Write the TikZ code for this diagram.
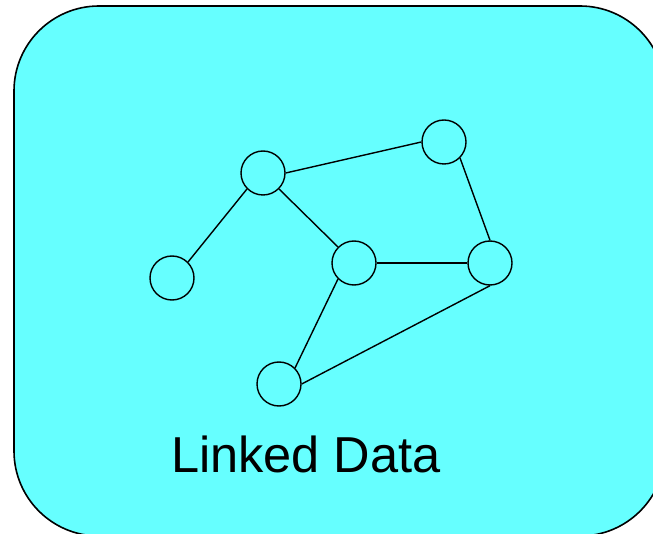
\documentclass[tikz,border=0pt]{standalone}
\usepackage{fontspec}
\setmainfont{Liberation Sans}
\definecolor{lodcyan}{HTML}{66FFFF}

\begin{document}
\begin{tikzpicture}[x=1pt,y=-1pt,
  res/.style={circle, draw, line width=1.4pt, minimum size=44pt, inner sep=0pt},
  link/.style={line width=1.4pt}]
\useasboundingbox (0,0) rectangle (653,534);
\clip (0,0) rectangle (653,534);
\draw[fill=lodcyan, line width=1.6pt, rounded corners=85pt] (14,6) rectangle (665,536);
\node[res] (hub) at (263,173) {};
\node[res] (top) at (444,142) {};
\node[res] (left) at (172,278) {};
\node[res] (mid) at (354,263) {};
\node[res] (right) at (490,263) {};
\node[res] (low) at (279,384) {};
\draw[link] (hub.east) -- (top.west);
\draw[link] (hub.south west) -- (left.north east);
\draw[link] (hub.south east) -- (mid.north west);
\draw[link] (top.south east) -- (right.north);
\draw[link, line width=2.8pt] (mid.east) -- (right.west);
\draw[link] (mid.south west) -- (low.north east);
\draw[link] (right.south) -- (low.east);
\node[anchor=base west, inner sep=0pt, font=\fontsize{50.5}{60}\selectfont] (label) at (171,472) {Linked Data};
\end{tikzpicture}
\end{document}
